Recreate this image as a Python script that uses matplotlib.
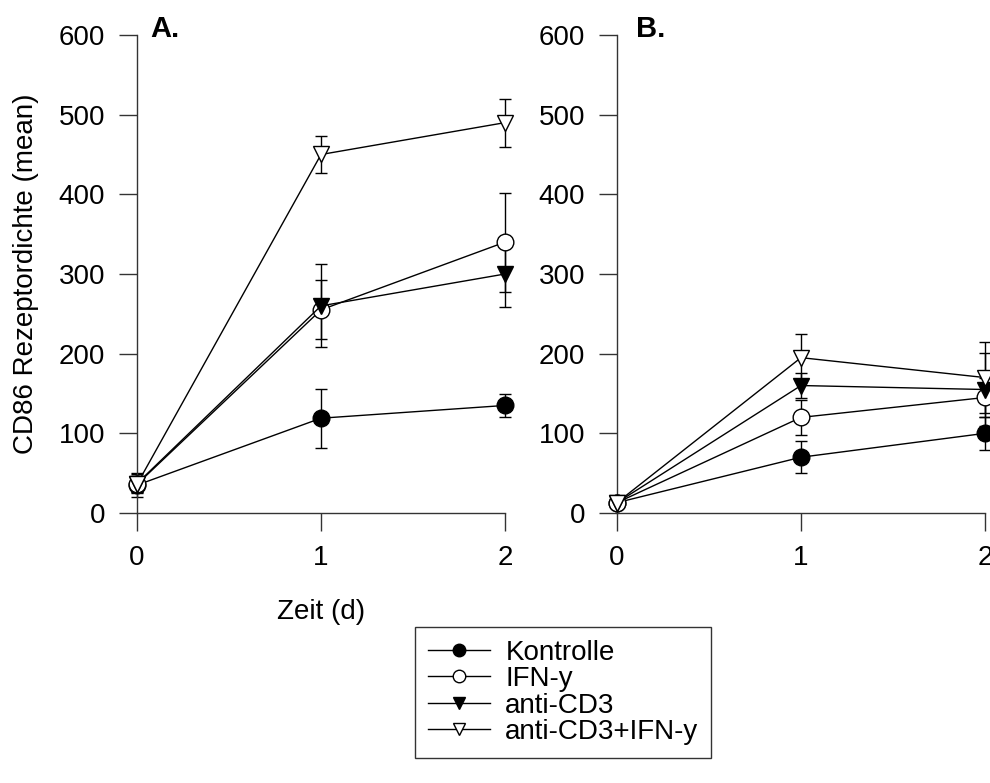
import matplotlib
matplotlib.use("Agg")
import matplotlib.pyplot as plt
from matplotlib.lines import Line2D

plt.rcParams['font.family'] = ['Liberation Sans', 'DejaVu Sans']

days = [0, 1, 2]
series_names = ["Kontrolle", "IFN-y", "anti-CD3", "anti-CD3+IFN-y"]

# Panel A: mean and error per day
a_kontrolle = [35, 119, 135]
a_kontrolle_err = [15, 37, 15]
a_ifn = [36, 255, 340]
a_ifn_err = [10, 37, 62]
a_cd3 = [37, 260, 300]
a_cd3_err = [12, 52, 41]
a_cd3_ifn = [36, 450, 490]
a_cd3_ifn_err = [10, 23, 30]

# Panel B: mean and error per day
b_kontrolle = [13, 70, 100]
b_kontrolle_err = [4, 20, 21]
b_ifn = [13, 120, 145]
b_ifn_err = [4, 22, 25]
b_cd3 = [13, 160, 155]
b_cd3_err = [4, 16, 46]
b_cd3_ifn = [13, 195, 170]
b_cd3_ifn_err = [4, 30, 45]

y_ticks = [0, 100, 200, 300, 400, 500, 600]
x_ticks = [0, 1, 2]

styles = [
    dict(marker='o', mfc='black', mec='black'),
    dict(marker='o', mfc='white', mec='black'),
    dict(marker='v', mfc='black', mec='black'),
    dict(marker='v', mfc='white', mec='black'),
]

W, H = 990, 783
fig = plt.figure(figsize=(W / 100, H / 100), dpi=100)

FS = 20


def make_axes(x0_px):
    x2_px = x0_px + 368
    ax = fig.add_axes([x0_px / W, (H - 513) / H, (x2_px - x0_px) / W, 478 / H])
    ax.set_xlim(0, 2)
    ax.set_ylim(0, 600)
    for s in ("top", "right"):
        ax.spines[s].set_visible(False)
    for s in ("left", "bottom"):
        ax.spines[s].set_linewidth(1.0)
        ax.spines[s].set_color('#333333')
    ax.set_xticks(x_ticks)
    ax.set_yticks(y_ticks)
    ax.tick_params(direction='out', length=13, width=1.0, color='#333333',
                   labelsize=FS, pad=10)
    return ax


def draw_panel(ax, groups):
    for (vals, errs), st in zip(groups, styles):
        ax.errorbar(days, vals, yerr=errs, fmt='none', ecolor='black',
                    elinewidth=1.0, capsize=4, capthick=1.0, clip_on=False,
                    zorder=2)
        ax.plot(days, vals, color='black', lw=1.0, ms=12, mew=1.0,
                clip_on=False, zorder=3, **st)


ax_a = make_axes(137)
draw_panel(ax_a, [(a_kontrolle, a_kontrolle_err), (a_ifn, a_ifn_err),
                  (a_cd3, a_cd3_err), (a_cd3_ifn, a_cd3_ifn_err)])
ax_a.set_ylabel("CD86 Rezeptordichte (mean)", fontsize=FS, labelpad=14)
ax_a.set_xlabel("Zeit (d)", fontsize=FS, labelpad=20)
fig.text(150 / W, 1 - 37 / H, "A.", fontsize=21, fontweight='bold',
         ha='left', va='baseline')

ax_b = make_axes(617)
draw_panel(ax_b, [(b_kontrolle, b_kontrolle_err), (b_ifn, b_ifn_err),
                  (b_cd3, b_cd3_err), (b_cd3_ifn, b_cd3_ifn_err)])
fig.text(636 / W, 1 - 37 / H, "B.", fontsize=21, fontweight='bold',
         ha='left', va='baseline')

handles = [Line2D([], [], color='black', lw=1.0, ms=9, mew=1.0, **st)
           for st in styles]
leg = fig.legend(handles, series_names, loc='upper left',
                 bbox_to_anchor=(415 / W, 1 - 627 / H),
                 bbox_transform=fig.transFigure,
                 fontsize=FS, frameon=True, fancybox=False,
                 edgecolor='black', handlelength=2.25, handletextpad=0.55,
                 labelspacing=0.02, borderpad=0.45, borderaxespad=0)
leg.get_frame().set_linewidth(1.0)

fig.savefig("out.png", dpi=100)
